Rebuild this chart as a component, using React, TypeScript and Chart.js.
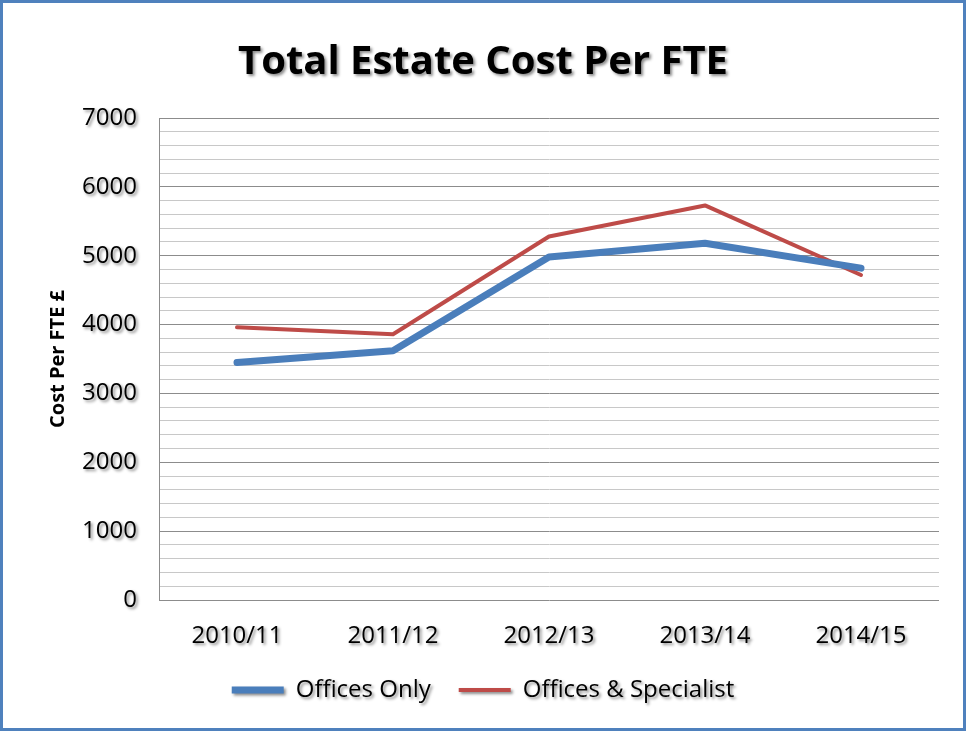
import React, { useEffect, useRef } from "react";
import { Chart, registerables } from "chart.js";

Chart.register(...registerables);

const categories = ["2010/11", "2011/12", "2012/13", "2013/14", "2014/15"];
const officesOnly = [3450, 3620, 4980, 5180, 4820];
const officesSpecialist = [3960, 3860, 5280, 5730, 4720];
const seriesNames = ["Offices Only", "Offices & Specialist"];
const titleText = "Total Estate Cost Per FTE";
const yAxisTitle = "Cost Per FTE £";
const yMin = 0;
const yMax = 7000;
const yMinorStep = 200;
const yMajorStep = 1000;

const FONT = "'Open Sans', 'DejaVu Sans', sans-serif";

const shadowPlugin = {
  id: "textShadow",
  beforeDraw(chart: any) {
    const wrap = (obj: any, name: string) => {
      if (!obj || typeof obj[name] !== "function" || obj["__wrapped_" + name]) return;
      const orig = obj[name].bind(obj);
      obj[name] = (...args: any[]) => {
        const c = chart.ctx;
        c.save();
        c.shadowColor = "rgba(0,0,0,0.45)";
        c.shadowBlur = 3;
        c.shadowOffsetX = 2;
        c.shadowOffsetY = 2;
        orig(...args);
        c.restore();
      };
      obj["__wrapped_" + name] = true;
    };
    wrap(chart.titleBlock, "draw");
    wrap(chart.legend, "draw");
    Object.values(chart.scales).forEach((s: any) => wrap(s, "drawLabels"));
  },
};

export default function App() {
  const canvasRef = useRef<HTMLCanvasElement | null>(null);

  useEffect(() => {
    document.body.style.margin = "0";
    const canvas = canvasRef.current;
    if (!canvas) return;
    const chart = new Chart(canvas, {
      type: "line",
      data: {
        labels: categories,
        datasets: [
          {
            label: seriesNames[0],
            data: officesOnly,
            borderColor: "#4a7ebb",
            backgroundColor: "#4a7ebb",
            borderWidth: 7,
            borderCapStyle: "round",
            borderJoinStyle: "round",
            pointRadius: 0,
            tension: 0,
            yAxisID: "y",
          },
          {
            label: seriesNames[1],
            data: officesSpecialist,
            borderColor: "#be4b48",
            backgroundColor: "#be4b48",
            borderWidth: 4,
            borderCapStyle: "round",
            borderJoinStyle: "round",
            pointRadius: 0,
            tension: 0,
            yAxisID: "y",
          },
        ],
      },
      options: {
        animation: false,
        responsive: false,
        maintainAspectRatio: false,
        layout: { padding: { top: 0, left: 0, right: 0, bottom: 16 } },
        plugins: {
          title: {
            display: true,
            text: titleText,
            color: "#000000",
            font: { family: FONT, size: 40, weight: "bold", lineHeight: 1.2 },
            padding: { top: 36, bottom: 31 },
          },
          legend: {
            display: true,
            position: "bottom",
            labels: {
              usePointStyle: true,
              pointStyle: "line",
              pointStyleWidth: 52,
              color: "#000000",
              font: { family: FONT, size: 24 },
              padding: 28,
            },
          },
          tooltip: { enabled: false },
        },
        scales: {
          x: {
            type: "category",
            offset: true,
            afterFit(scale: any) {
              scale.height = 50;
            },
            grid: { display: false, drawTicks: false },
            border: { display: false },
            ticks: {
              color: "#000000",
              font: { family: FONT, size: 24, lineHeight: 1.2 },
              padding: 22,
              maxRotation: 0,
            },
          },
          y: {
            min: yMin,
            max: yMax,
            position: "left",
            afterFit(scale: any) {
              scale.width = 156;
            },
            grid: {
              drawTicks: false,
              color: (ctx: any) =>
                ctx.tick && ctx.tick.value % yMajorStep === 0 ? "#8c8c8c" : "#c8c8c8",
              lineWidth: 1,
            },
            border: { display: true, color: "#8c8c8c", width: 1 },
            ticks: {
              stepSize: yMinorStep,
              autoSkip: false,
              color: "#000000",
              font: { family: FONT, size: 24 },
              padding: 22,
              callback: (v: any) => (Number(v) % yMajorStep === 0 ? String(v) : ""),
            },
            title: {
              display: true,
              text: yAxisTitle,
              color: "#000000",
              font: { family: FONT, size: 20, weight: "bold", lineHeight: 1.2 },
              padding: { top: 43, bottom: 0 },
            },
          },
          spacer: {
            type: "linear",
            position: "right",
            display: true,
            afterFit(scale: any) {
              scale.width = 24;
            },
            grid: { display: false, drawTicks: false },
            border: { display: false },
            ticks: { display: false },
          },
        },
      },
      plugins: [shadowPlugin],
    });
    return () => chart.destroy();
  }, []);

  return (
    <div
      style={{
        width: 966,
        height: 731,
        boxSizing: "border-box",
        border: "3px solid #4f81bd",
        background: "#ffffff",
        position: "relative",
      }}
    >
      <canvas ref={canvasRef} width={960} height={725} style={{ display: "block" }} />
    </div>
  );
}
